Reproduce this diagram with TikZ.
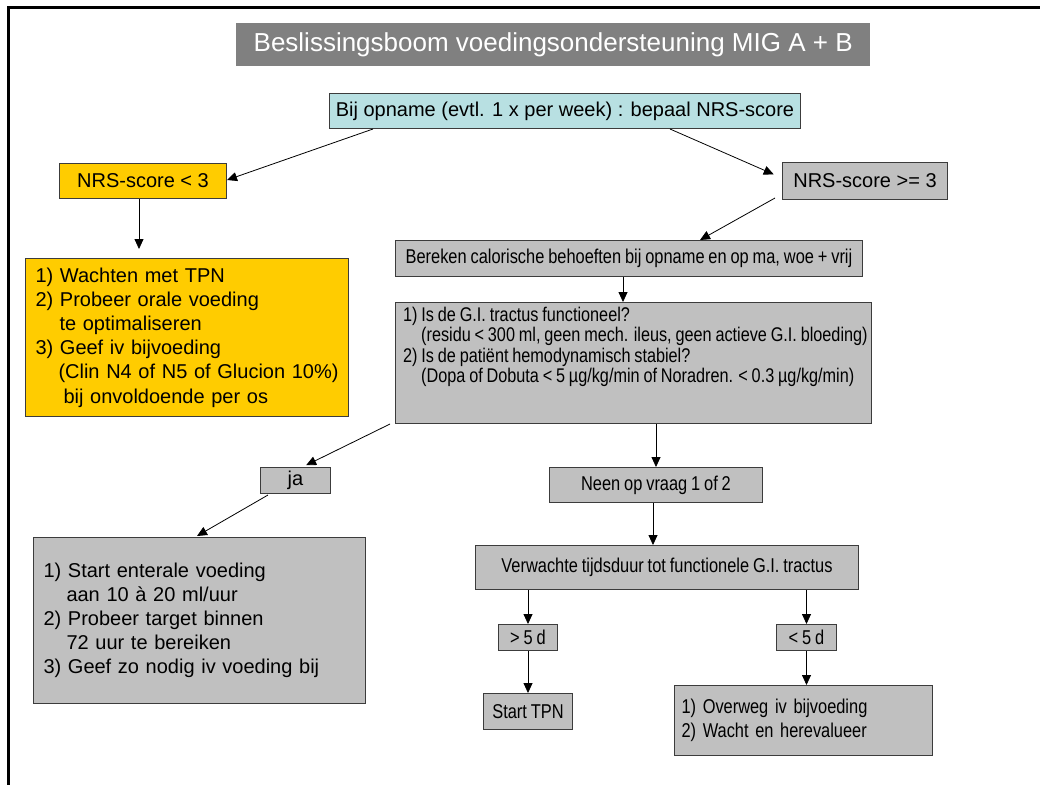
\documentclass[tikz,border=0pt]{standalone}
\usepackage{fontspec}
\setmainfont{Liberation Sans}
\newfontfamily\narrowfont[FakeStretch=0.82,WordSpace=0.85]{Liberation Sans}
\usetikzlibrary{arrows.meta,calc}
\definecolor{boxgray}{RGB}{192,192,192}
\definecolor{boxcyan}{RGB}{184,224,226}
\definecolor{boxorange}{RGB}{255,204,0}
\definecolor{titlegray}{RGB}{128,128,128}
\definecolor{edgegray}{RGB}{60,60,60}
\tikzset{
  box/.style={draw=edgegray, line width=1pt, anchor=north west, inner sep=0pt,
    font=\fontsize{20}{24}\selectfont},
  gbox/.style={box, fill=boxgray},
  nfont/.style={font=\narrowfont\fontsize{20}{24}\selectfont},
  arr/.style={-{Triangle[length=10pt,width=9pt]}, line width=0.8pt, black},
}
\begin{document}
\begin{tikzpicture}[x=1pt,y=-1pt]
\useasboundingbox (0,0) rectangle (1040,785);
\fill[white] (0,0) rectangle (1040,785);
% frame
\draw[line width=3pt, line join=miter] (1040,7) -- (8,7) -- (8,785);

% title
\node[anchor=north west, inner sep=0pt, fill=titlegray, text=white,
  minimum width=634pt, minimum height=43pt, font=\fontsize{26}{30}\selectfont]
  (title) at (236,23) {Beslissingsboom voedingsondersteuning MIG A + B};

% nodes
\node[box, fill=boxcyan, minimum width=471pt, minimum height=35pt] (bij) at (329,93)
  {Bij opname (evtl. 1 x per week) : bepaal NRS-score};
\node[box, fill=boxorange, minimum width=167pt, minimum height=35pt] (nrs1) at (59,163)
  {NRS-score < 3};
\node[gbox, minimum width=165pt, minimum height=37pt] (nrs2) at (782,162)
  {NRS-score >= 3};
\node[box, fill=boxorange, minimum height=158pt, text width=303pt, inner xsep=10pt,
  align=left, font=\fontsize{20}{24.2}\selectfont] (orange) at (25,258)
  {\mbox{1) Wachten met TPN}\\
   \mbox{2) Probeer orale voeding}\\
   \mbox{\hspace*{24pt}te optimaliseren}\\
   \mbox{3) Geef iv bijvoeding}\\
   \mbox{\hspace*{23pt}(Clin N4 of N5 of Glucion 10\%)}\\
   \mbox{\hspace*{28pt}bij onvoldoende per os}};
\node[gbox, nfont, minimum width=467pt, minimum height=36pt] (ber) at (395,240)
  {Bereken calorische behoeften bij opname en op ma, woe + vrij};
\node[gbox, minimum width=476pt, minimum height=121pt] (q) at (395,302) {};
\node[anchor=west, inner sep=0pt, align=left, font=\narrowfont\fontsize{19.8}{20.3}\selectfont]
  (qtext) at (403,347)
  {1) Is de G.I. tractus functioneel?\\
   \hspace*{18pt}(residu < 300 ml, geen mech. ileus, geen actieve G.I. bloeding)\\
   2) Is de patiënt hemodynamisch stabiel?\\
   \hspace*{18pt}(Dopa of Dobuta < 5 µg/kg/min of Noradren. < 0.3 µg/kg/min)};
\node[gbox, minimum width=70pt, minimum height=26pt] (ja) at (260,467) {ja};
\node[gbox, minimum height=166pt, text width=312pt, inner xsep=10pt, align=left]
  (ent) at (33,537)
  {\mbox{1) Start enterale voeding}\\
   \mbox{\hspace*{23pt}aan 10 à 20 ml/uur}\\
   \mbox{2) Probeer target binnen}\\
   \mbox{\hspace*{23pt}72 uur te bereiken}\\
   \mbox{3) Geef zo nodig iv voeding bij}};
\node[gbox, nfont, minimum width=213pt, minimum height=35pt] (neen) at (549,467)
  {Neen op vraag 1 of 2};
\node[gbox, nfont, minimum width=383pt, minimum height=44pt] (verw) at (475,545)
  {Verwachte tijdsduur tot functionele G.I. tractus};
\node[gbox, nfont, minimum width=59pt, minimum height=26pt] (gt) at (498,624) {> 5 d};
\node[gbox, nfont, minimum width=89pt, minimum height=36pt] (tpn) at (483,693) {Start TPN};
\node[gbox, nfont, minimum width=60pt, minimum height=26pt] (lt) at (776,624) {< 5 d};
\node[gbox, nfont, minimum height=70pt, text width=244pt, inner xsep=7pt, align=left]
  (ov) at (674,685)
  {\mbox{1) Overweg iv bijvoeding}\\
   \mbox{2) Wacht en herevalueer}};

% connectors
\draw[arr] ($(bij.south west)+(44,0)$) -- ($(nrs1.east)+(0,-1)$);
\draw[arr, shorten >=9pt] ($(bij.south west)+(341,0)$) -- ($(nrs2.west)+(0,-3)$);
\draw[arr] ($(nrs2.south west)+(-7,-2)$) -- ($(ber.north west)+(305,0)$);
\draw[arr, shorten >=9pt] ($(nrs1.south)+(-4,0)$) -- ($(nrs1.south |- orange.north)+(-4,0)$);
\draw[arr] ($(ber.south west)+(228,0)$) -- ($(ber.south west |- q.north)+(228,0)$);
\draw[arr, shorten >=4pt] ($(q.south west)+(-5,0)$) -- ($(ja.north)+(7,0)$);
\draw[arr] ($(ja.south west)+(8,1)$) -- ($(ent.north west)+(164,-1)$);
\draw[arr] ($(q.south west)+(261,0)$) -- ($(q.south west |- neen.north)+(261,0)$);
\draw[arr] ($(neen.south)+(-3,0)$) -- ($(neen.south |- verw.north)+(-3,0)$);
\draw[arr] (gt.north |- verw.south) -- (gt.north);
\draw[arr] (gt.south) -- (gt.south |- tpn.north);
\draw[arr] (lt.north |- verw.south) -- (lt.north);
\draw[arr] (lt.south) -- (lt.south |- ov.north);
\end{tikzpicture}
\end{document}
